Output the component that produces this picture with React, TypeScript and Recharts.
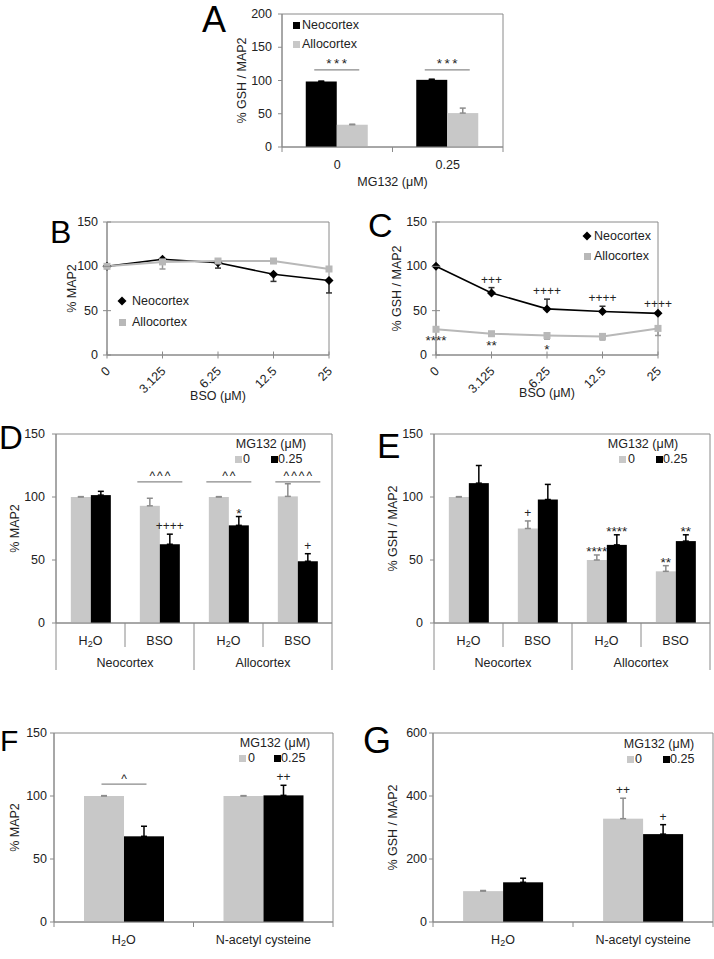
import React from 'react';
import { BarChart, Bar, LineChart, Line, XAxis, YAxis, ErrorBar, ReferenceArea, ReferenceDot } from 'recharts';

const FONT = '"Liberation Sans", Arial, Helvetica, sans-serif';
const INK = '#222';
const AXIS = '#8a8a8a';
const GREY = '#c8c8c8';
const LINE_GREY = '#b8b8b8';
const FS = 12.5;

// A - GSH/MAP2 vs MG132, neocortex vs allocortex
const aDoses = ['0', '0.25'];
const aNeo = [98.5, 101];
const aNeoErr = [0.5, 1];
const aAllo = [33.5, 51];
const aAlloErr = [0.8, 7.5];
const aPairSig = ['***', '***'];
const aPairLevel = 116;

// B / C - BSO dose curves
const bsoDoses = ['0', '3.125', '6.25', '12.5', '25'];
const bNeo = [100, 108, 104, 91, 84];
const bNeoErr = [0, 3, 6, 8, 14];
const bAllo = [100, 105, 106, 106, 97];
const bAlloErr = [0, 8, 3, 1, 2];

const cNeo = [100, 70, 52, 49, 47];
const cNeoErr = [0, 6, 11, 6, 1];
const cAllo = [29, 24, 22, 21, 30];
const cAlloErr = [1, 2, 4, 4, 8];
const cNeoSig = ['', '+++', '++++', '++++', '++++'];
const cAlloSig = ['****', '**', '*', '', ''];

// D / E - treatment x region, MG132 0 vs 0.25
const deTreat = ['H2O', 'BSO', 'H2O', 'BSO'];
const deRegion = ['Neocortex', 'Neocortex', 'Allocortex', 'Allocortex'];

const dCtrl = [100, 93, 100, 100.5];
const dCtrlErr = [0.3, 6, 0.3, 10];
const dMg = [101.5, 62.5, 77.5, 49];
const dMgErr = [3, 8, 7, 6];
const dMgSig = ['', '++++', '*', '+'];
const dPairSig = ['', '^^^', '^^', '^^^^'];
const dPairLevel = 112;

const eCtrl = [100, 75, 50, 41];
const eCtrlErr = [0.3, 6, 4, 4.5];
const eMg = [111, 98, 62, 65];
const eMgErr = [14, 12, 8, 5];
const eCtrlSig = ['', '+', '****', '**'];
const eMgSig = ['', '', '****', '**'];

// F / G - N-acetyl cysteine rescue
const fgTreat = ['H2O', 'N-acetyl cysteine'];
const fCtrl = [100, 100];
const fCtrlErr = [0.3, 0.3];
const fMg = [68, 100.5];
const fMgErr = [8, 8];
const fMgSig = ['', '++'];
const fPairSig = ['^', ''];
const fPairLevel = 109.5;

const gCtrl = [98, 328];
const gCtrlErr = [2, 65];
const gMg = [126, 279];
const gMgErr = [13, 30];
const gCtrlSig = ['', '++'];
const gMgSig = ['', '+'];

const none = (n: number) => Array(n).fill('');

const pairRows = (
  cats: string[], ctrl: number[], ctrlErr: number[], mg: number[], mgErr: number[],
  ctrlSig: string[], mgSig: string[], pair: string[]
) =>
  cats.map((c, i) => ({
    id: String(i),
    cat: c,
    ctrl: ctrl[i],
    ctrlErr: [0, ctrlErr[i]],
    ctrlSig: ctrlSig[i],
    mg: mg[i],
    mgErr: [0, mgErr[i]],
    mgSig: mgSig[i],
    pair: pair[i],
  }));

const lineRows = (a: number[], aErr: number[], aUp: boolean, b: number[], bErr: number[], bUp: boolean) =>
  bsoDoses.map((d, i) => ({
    dose: d,
    neo: a[i],
    neoErr: aUp ? [0, aErr[i]] : [aErr[i], 0],
    allo: b[i],
    alloErr: bUp ? [0, bErr[i]] : [bErr[i], 0],
  }));

const label = (s: string) =>
  s === 'H2O' ? (
    <>
      H<tspan fontSize={FS * 0.72} dy={3}>2</tspan>
      <tspan dy={-3}>O</tspan>
    </>
  ) : (
    s
  );

// bar with its significance marks; px per unit is taken from the bar itself
const barShape =
  (valueKey: string, errKey: string, sigKey: string, pairLevel = 0, pairSpacing = 2) =>
  (p: any) => {
    const { x, y, width, height, fill, payload } = p;
    const v = payload[valueKey];
    const ppu = height / v;
    const base = y + height;
    const sig = payload[sigKey];
    const pair = pairLevel ? payload.pair : '';
    const errTop = base - (v + payload[errKey][1]) * ppu;
    const star = sig && sig.includes('*');
    const ly = base - pairLevel * ppu;
    const cx = x + width;
    return (
      <g>
        <rect x={x} y={y} width={width} height={height} fill={fill} />
        {sig ? (
          <text x={x + width / 2} y={star ? errTop + 1.5 : errTop - 4} textAnchor="middle" fontSize={star ? 13.5 : 12} fill={INK}>
            {sig}
          </text>
        ) : null}
        {pair ? (
          <g>
            <line x1={cx - 22.5} x2={cx + 22.5} y1={ly} y2={ly} stroke={AXIS} strokeWidth={1.2} />
            <text x={cx + pairSpacing / 2} y={ly - 1.5} textAnchor="middle" fontSize={pair.includes('*') ? 13.5 : 12} letterSpacing={pairSpacing} fill={INK}>
              {pair}
            </text>
          </g>
        ) : null}
      </g>
    );
  };

const yTick = (inner: number, outer: number, gap: number) => (p: any) => (
  <g>
    <line x1={p.x - outer} x2={p.x + inner} y1={p.y} y2={p.y} stroke={AXIS} />
    <text x={p.x - gap} y={p.y} textAnchor="end" dominantBaseline="central" fontSize={FS} fill={INK}>
      {p.payload.value}
    </text>
  </g>
);

const catTick = (cats: string[], band: number) => (p: any) => {
  const i = Number(p.payload.value);
  return (
    <g>
      <line x1={p.x - band / 2} x2={p.x - band / 2} y1={p.y} y2={p.y + 5} stroke={AXIS} />
      {i === cats.length - 1 ? <line x1={p.x + band / 2} x2={p.x + band / 2} y1={p.y} y2={p.y + 5} stroke={AXIS} /> : null}
      <text x={p.x} y={p.y + 18} textAnchor="middle" dominantBaseline="central" fontSize={FS} fill={INK}>
        {label(cats[i])}
      </text>
    </g>
  );
};

const groupedTick = (treat: string[], region: string[], band: number) => (p: any) => {
  const i = Number(p.payload.value);
  const first = i === 0 || region[i] !== region[i - 1];
  const last = i === treat.length - 1;
  const n = region.filter((r) => r === region[i]).length;
  return (
    <g>
      <line x1={p.x - band / 2} x2={p.x - band / 2} y1={p.y} y2={p.y + (first ? 47 : 24)} stroke={AXIS} />
      {last ? <line x1={p.x + band / 2} x2={p.x + band / 2} y1={p.y} y2={p.y + 47} stroke={AXIS} /> : null}
      <text x={p.x} y={p.y + 18} textAnchor="middle" dominantBaseline="central" fontSize={FS} fill={INK}>
        {label(treat[i])}
      </text>
      {first ? (
        <text x={p.x + ((n - 1) * band) / 2} y={p.y + 40} textAnchor="middle" dominantBaseline="central" fontSize={FS} fill={INK}>
          {region[i]}
        </text>
      ) : null}
    </g>
  );
};

const rotTick = (p: any) => {
  const tx = p.x + 1;
  const ty = p.y + 14;
  return (
    <g>
      <line x1={p.x} x2={p.x} y1={p.y - 3.5} y2={p.y + 3.5} stroke={AXIS} />
      <text x={tx} y={ty} transform={`rotate(-45, ${tx}, ${ty})`} textAnchor="end" dominantBaseline="central" fontSize={FS} fill={INK}>
        {p.payload.value}
      </text>
    </g>
  );
};

const diamondDot = (p: any) => (
  <path
    key={`d${p.index}`}
    d={`M${p.cx} ${p.cy - 4.5}L${p.cx + 4.5} ${p.cy}L${p.cx} ${p.cy + 4.5}L${p.cx - 4.5} ${p.cy}Z`}
    fill="#000"
  />
);
const squareDot = (p: any) => <rect key={`s${p.index}`} x={p.cx - 3.5} y={p.cy - 3.5} width={7} height={7} fill={LINE_GREY} />;

const pos = (x: number, y: number): React.CSSProperties => ({ position: 'absolute', left: x, top: y });

function Letter({ ch, x, y, size }: { ch: string; x: number; y: number; size: number }) {
  return <div style={{ ...pos(x, y), fontSize: size, lineHeight: 1, color: '#000' }}>{ch}</div>;
}

function Key({ x, y, kind, color, text, tx }: { x: number; y: number; kind: string; color: string; text: string; tx: number }) {
  return (
    <>
      {kind === 'diamond' ? (
        <svg style={pos(x - 5, y - 5)} width={10} height={10}>
          <path d="M5 0.5L9.5 5L5 9.5L0.5 5Z" fill={color} />
        </svg>
      ) : (
        <div style={{ ...pos(x - 3.5, y - 3.5), width: 7, height: 7, background: color }} />
      )}
      <div style={{ ...pos(tx, y - 8), lineHeight: '16px', fontSize: FS, whiteSpace: 'nowrap' }}>{text}</div>
    </>
  );
}

function DoseKey({ cx, y, g, b }: { cx: number; y: number; g: number[]; b: number[] }) {
  return (
    <>
      <div style={{ ...pos(cx - 60, y - 8), width: 120, textAlign: 'center', lineHeight: '16px', fontSize: FS }}>MG132 (μM)</div>
      <Key x={g[0]} y={y + 15} kind="square" color={GREY} text="0" tx={g[1]} />
      <Key x={b[0]} y={y + 15} kind="square" color="#000" text="0.25" tx={b[1]} />
    </>
  );
}

const axisLine = { stroke: AXIS };
const noTick = { tickLine: false, tickSize: 0, tickMargin: 0, interval: 0 as const };

type PairPanelProps = {
  left: number; top: number; yw: number; pw: number; ph: number; right: number; xh: number;
  rows: any[]; max: number; ticks: number[]; yLabel: string; gap: number; tick: any; pairLevel?: number; pairSpacing?: number;
};

function PairBars(props: PairPanelProps) {
  const { left, top, yw, pw, ph, right, xh, rows, max, ticks, yLabel, gap, tick, pairLevel = 0, pairSpacing = 2 } = props;
  return (
    <div style={pos(left, top - 10)}>
      <BarChart
        width={yw + pw + right}
        height={10 + ph + xh}
        data={rows}
        margin={{ top: 10, right, bottom: 0, left: 0 }}
        barCategoryGap="21.5%"
        barGap={0}
      >
        <XAxis dataKey="id" height={xh} axisLine={axisLine} {...noTick} tick={tick} />
        <YAxis
          width={yw}
          domain={[0, max]}
          ticks={ticks}
          axisLine={axisLine}
          {...noTick}
          tick={yTick(0, 4, gap)}
          label={{ value: yLabel, angle: -90, position: 'center', fontSize: FS, fill: INK }}
        />
        <ReferenceArea y1={0} y2={max} fill="none" stroke={AXIS} />
        <Bar dataKey="ctrl" fill={GREY} isAnimationActive={false} shape={barShape('ctrl', 'ctrlErr', 'ctrlSig', pairLevel, pairSpacing)}>
          <ErrorBar dataKey="ctrlErr" direction="y" width={3} stroke="#8c8c8c" />
        </Bar>
        <Bar dataKey="mg" fill="#000" isAnimationActive={false} shape={barShape('mg', 'mgErr', 'mgSig')}>
          <ErrorBar dataKey="mgErr" direction="y" width={3} stroke="#000" />
        </Bar>
      </BarChart>
    </div>
  );
}

function DoseLines({ left, top, yw, right, rows, yLabel, neoSig, alloSig }: any) {
  const pw = 222;
  const ph = 133;
  const xh = yw === 70 ? 82 : 76;
  return (
    <div style={pos(left, top - 12)}>
      <LineChart width={yw + pw + right} height={12 + ph + xh} data={rows} margin={{ top: 12, right, bottom: 0, left: 0 }}>
        <XAxis
          dataKey="dose"
          type="category"
          scale="point"
          height={xh}
          axisLine={axisLine}
          {...noTick}
          tick={rotTick}
          label={{ value: 'BSO (μM)', position: 'center', fontSize: FS, fill: INK }}
        />
        <YAxis
          width={yw}
          domain={[0, 150]}
          ticks={[0, 50, 100, 150]}
          axisLine={axisLine}
          {...noTick}
          tick={yTick(4, 4, 9)}
          label={{ value: yLabel, angle: -90, position: 'center', fontSize: FS, fill: INK }}
        />
        <ReferenceArea y1={0} y2={150} fill="none" stroke={AXIS} />
        <Line dataKey="neo" stroke="#000" strokeWidth={1.6} dot={diamondDot} isAnimationActive={false}>
          <ErrorBar dataKey="neoErr" direction="y" width={3} stroke="#333" />
        </Line>
        <Line dataKey="allo" stroke={LINE_GREY} strokeWidth={2} dot={squareDot} isAnimationActive={false}>
          <ErrorBar dataKey="alloErr" direction="y" width={3} stroke="#999" />
        </Line>
        {neoSig
          ? bsoDoses.map((d, i) =>
              neoSig[i] ? (
                <ReferenceDot
                  key={`n${i}`}
                  x={d}
                  y={rows[i].neo + rows[i].neoErr[1]}
                  r={0}
                  label={{ value: neoSig[i], position: 'top', offset: 4, fontSize: 12, fill: INK }}
                />
              ) : null
            )
          : null}
        {alloSig
          ? bsoDoses.map((d, i) =>
              alloSig[i] ? (
                <ReferenceDot
                  key={`a${i}`}
                  x={d}
                  y={rows[i].allo - rows[i].alloErr[0]}
                  r={0}
                  label={{ value: alloSig[i], position: 'bottom', offset: 5, fontSize: 13.5, fill: INK }}
                />
              ) : null
            )
          : null}
      </LineChart>
    </div>
  );
}

export default function App() {
  const aRows = aDoses.map((d, i) => ({
    id: String(i),
    ctrl: aNeo[i],
    ctrlErr: [0, aNeoErr[i]],
    ctrlSig: '',
    mg: aAllo[i],
    mgErr: [0, aAlloErr[i]],
    mgSig: '',
    pair: aPairSig[i],
  }));
  const bRows = lineRows(bNeo, bNeoErr, false, bAllo, bAlloErr, false);
  const cRows = lineRows(cNeo, cNeoErr, true, cAllo, cAlloErr, false);
  const dRows = pairRows(deTreat, dCtrl, dCtrlErr, dMg, dMgErr, none(4), dMgSig, dPairSig);
  const eRows = pairRows(deTreat, eCtrl, eCtrlErr, eMg, eMgErr, eCtrlSig, eMgSig, none(4));
  const fRows = pairRows(fgTreat, fCtrl, fCtrlErr, fMg, fMgErr, none(2), fMgSig, fPairSig);
  const gRows = pairRows(fgTreat, gCtrl, gCtrlErr, gMg, gMgErr, gCtrlSig, gMgSig, none(2));

  return (
    <div
      style={{
        position: 'absolute',
        left: 0,
        top: 0,
        width: 714,
        height: 959,
        overflow: 'hidden',
        background: '#fff',
        fontFamily: FONT,
        color: INK,
      }}
    >
      {/* A: neocortex (black) drawn first */}
      <div style={pos(202, 0)}>
        <BarChart width={313} height={217} data={aRows} margin={{ top: 14, right: 12, bottom: 0, left: 0 }} barCategoryGap="21.5%" barGap={0}>
          <XAxis
            dataKey="id"
            height={70}
            axisLine={axisLine}
            {...noTick}
            tick={catTick(aDoses, 221 / 2)}
            label={{ value: 'MG132 (μM)', position: 'center', fontSize: FS, fill: INK }}
          />
          <YAxis
            width={80}
            domain={[0, 200]}
            ticks={[0, 50, 100, 150, 200]}
            axisLine={axisLine}
            {...noTick}
            tick={yTick(0, 4, 10)}
            label={{ value: '% GSH / MAP2', angle: -90, position: 'center', fontSize: FS, fill: INK }}
          />
          <ReferenceArea y1={0} y2={200} fill="none" stroke={AXIS} />
          <Bar dataKey="ctrl" fill="#000" isAnimationActive={false} shape={barShape('ctrl', 'ctrlErr', 'ctrlSig', aPairLevel, 2.5)}>
            <ErrorBar dataKey="ctrlErr" direction="y" width={3} stroke="#000" />
          </Bar>
          <Bar dataKey="mg" fill={GREY} isAnimationActive={false} shape={barShape('mg', 'mgErr', 'mgSig')}>
            <ErrorBar dataKey="mgErr" direction="y" width={3} stroke="#8c8c8c" />
          </Bar>
        </BarChart>
      </div>
      <Key x={296} y={25} kind="square" color="#000" text="Neocortex" tx={302} />
      <Key x={296} y={44} kind="square" color={GREY} text="Allocortex" tx={302} />
      <Letter ch="A" x={202} y={2} size={36} />

      {/* B, C */}
      <DoseLines left={37} top={222} yw={70} right={12} rows={bRows} yLabel="% MAP2" />
      <Key x={122} y={301} kind="diamond" color="#000" text="Neocortex" tx={132} />
      <Key x={122} y={322} kind="square" color={LINE_GREY} text="Allocortex" tx={132} />
      <Letter ch="B" x={50} y={216} size={32} />

      <DoseLines left={358} top={222} yw={78} right={28} rows={cRows} yLabel="% GSH / MAP2" neoSig={cNeoSig} alloSig={cAlloSig} />
      <Key x={587} y={236} kind="diamond" color="#000" text="Neocortex" tx={594} />
      <Key x={587} y={256} kind="square" color={LINE_GREY} text="Allocortex" tx={594} />
      <Letter ch="C" x={368} y={208} size={34} />

      {/* D, E */}
      <PairBars
        left={-26} top={434} yw={82} pw={276} ph={189} right={8} xh={50}
        rows={dRows} max={150} ticks={[0, 50, 100, 150]} yLabel="% MAP2" gap={11}
        tick={groupedTick(deTreat, deRegion, 276 / 4)} pairLevel={dPairLevel} pairSpacing={2}
      />
      <DoseKey cx={271} y={444} g={[238, 243]} b={[274, 278]} />
      <Letter ch="D" x={-1} y={421} size={33} />

      <PairBars
        left={352} top={434} yw={82} pw={276} ph={189} right={4} xh={50}
        rows={eRows} max={150} ticks={[0, 50, 100, 150]} yLabel="% GSH / MAP2" gap={11}
        tick={groupedTick(deTreat, deRegion, 276 / 4)}
      />
      <DoseKey cx={643} y={444} g={[622, 628]} b={[659.5, 663]} />
      <Letter ch="E" x={377} y={428} size={35} />

      {/* F, G */}
      <PairBars
        left={-24} top={733} yw={78} pw={279} ph={189} right={8} xh={30}
        rows={fRows} max={150} ticks={[0, 50, 100, 150]} yLabel="% MAP2" gap={7}
        tick={catTick(fgTreat, 279 / 2)} pairLevel={fPairLevel} pairSpacing={2}
      />
      <DoseKey cx={275} y={743} g={[242.5, 248]} b={[277, 281]} />
      <Letter ch="F" x={0} y={726} size={30} />

      <PairBars
        left={353} top={733} yw={80} pw={280} ph={189} right={1} xh={30}
        rows={gRows} max={600} ticks={[0, 200, 400, 600]} yLabel="% GSH / MAP2" gap={6}
        tick={catTick(fgTreat, 280 / 2)}
      />
      <DoseKey cx={659} y={744} g={[630, 635]} b={[666, 670]} />
      <Letter ch="G" x={363} y={723} size={36} />
    </div>
  );
}
